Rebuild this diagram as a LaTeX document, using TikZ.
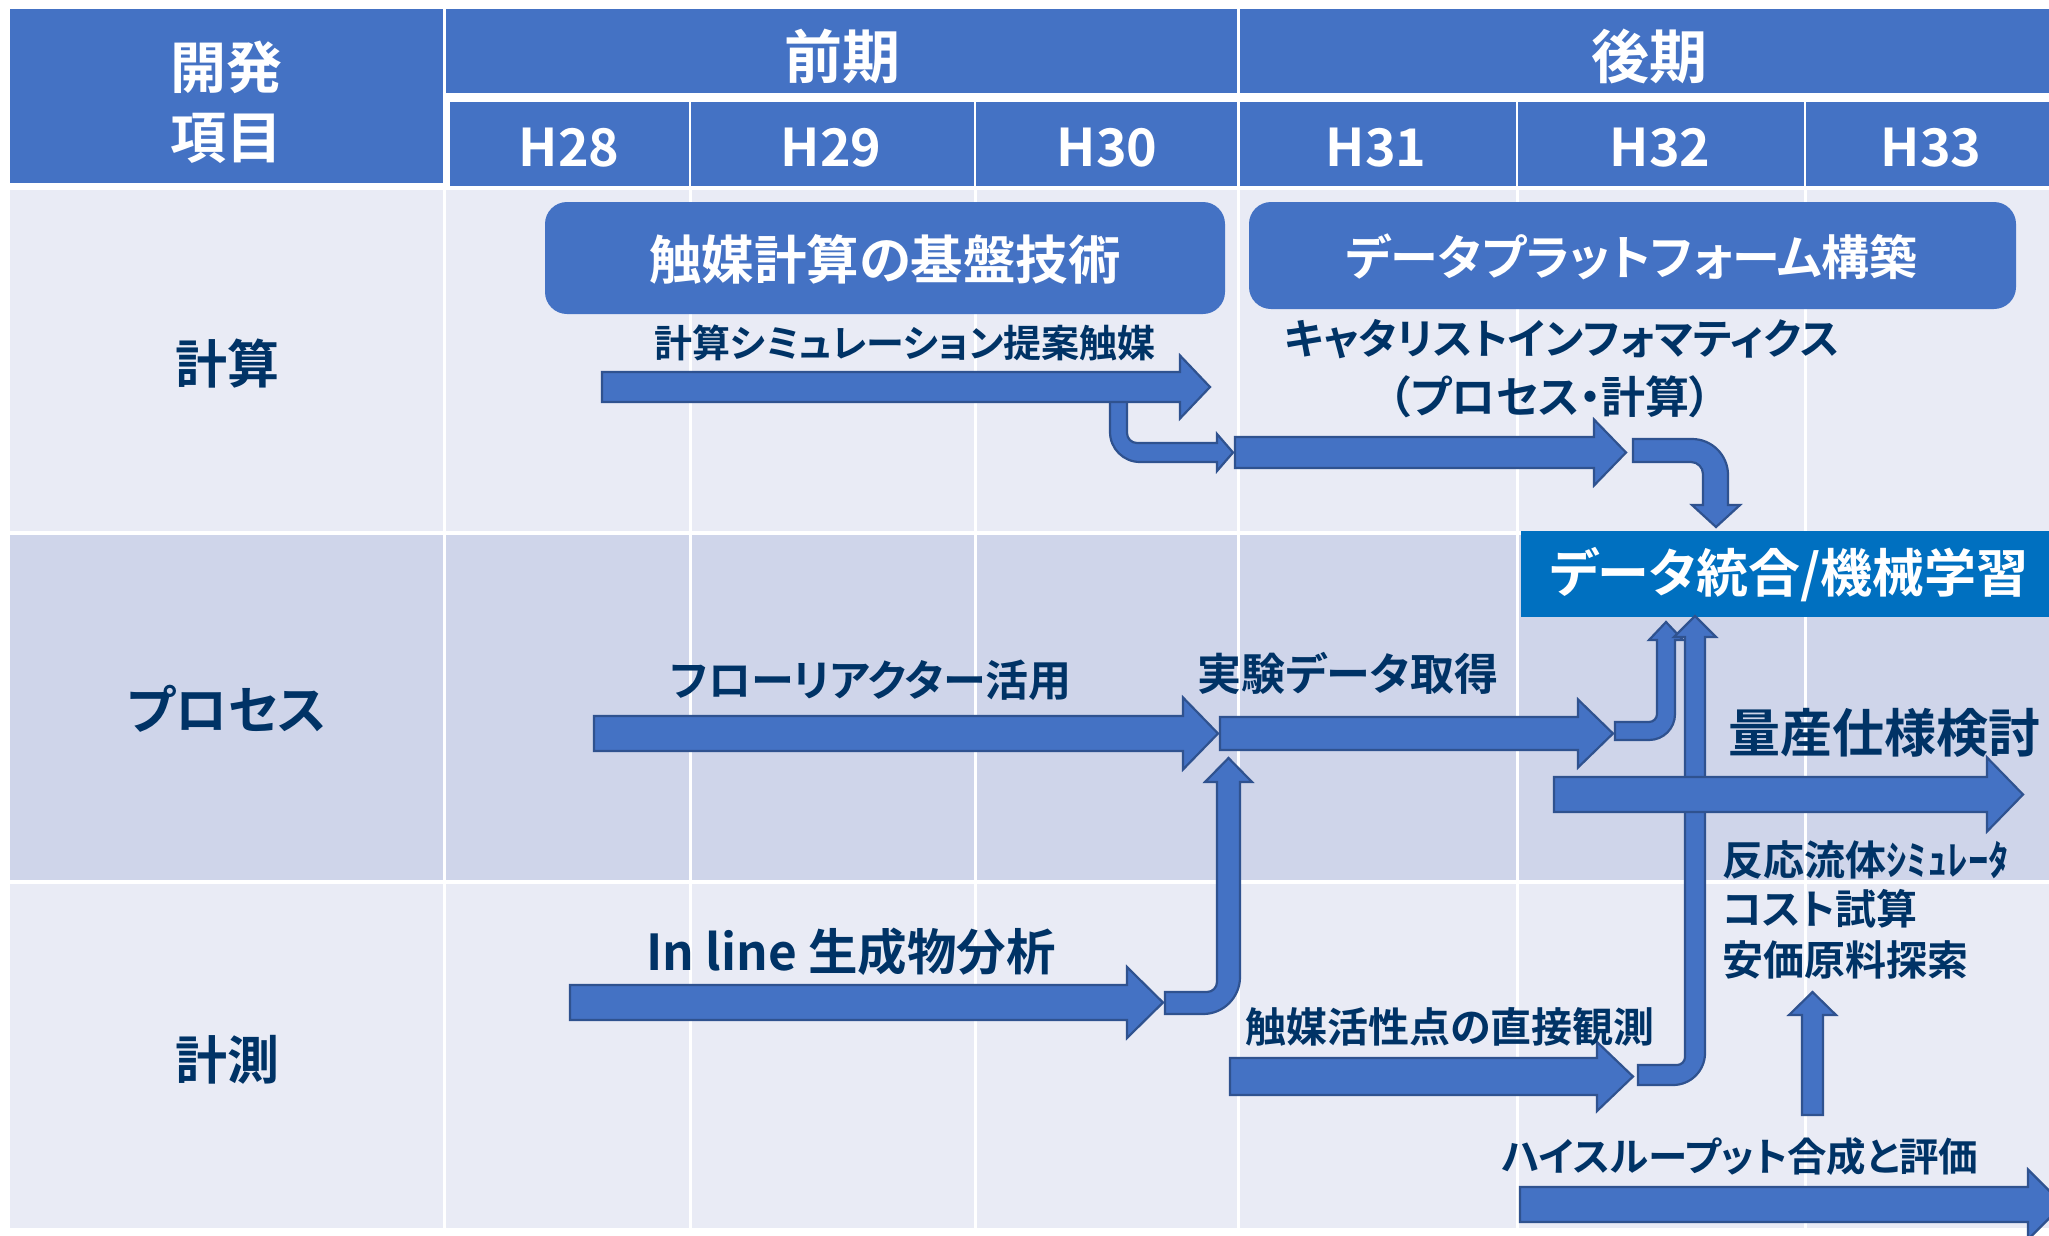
\documentclass[tikz,border=0pt]{standalone}
\usepackage{fontspec}
\newfontfamily\jp{Noto Sans CJK JP Bold}[RawFeature=+palt]
\definecolor{hdr}{HTML}{4472C4}
\definecolor{rowa}{HTML}{E9EBF5}
\definecolor{rowb}{HTML}{CFD5EA}
\definecolor{navy}{HTML}{003366}
\definecolor{aedge}{HTML}{2F528F}
\definecolor{dbox}{HTML}{0070C0}
\tikzset{
  blk/.style={fill=hdr, draw=aedge, line width=2.2pt, line join=miter},
  lbl/.style={text=navy, font=\jp\fontsize{#1}{#1}\selectfont, inner sep=0pt},
  hd/.style={text=white, font=\jp\fontsize{#1}{#1}\selectfont, inner sep=0pt},
  gridline/.style={white, line width=3pt},
  rbox/.style={fill=hdr, rounded corners=22pt, inner sep=0pt},
}
\newcommand\harr[6]{%
  \path[blk] ({#1},{#4-#5}) -- ({#2},{#4-#5}) -- ({#2},{#4-#6}) -- ({#3},{#4})
    -- ({#2},{#4+#6}) -- ({#2},{#4+#5}) -- ({#1},{#4+#5}) -- cycle;}
\begin{document}
\begin{tikzpicture}[x=1pt,y=-1pt]
\useasboundingbox (0,0) rectangle (2049,1235);
\clip (0,0) rectangle (2049,1235);
\fill[white] (0,0) rectangle (2049,1235);
% header
\fill[hdr] (10,9) rectangle (443,183);
\fill[hdr] (446,9) rectangle (1237,93);
\fill[hdr] (1240,9) rectangle (2049,93);
\fill[hdr] (450,102) rectangle (689,186);
\fill[hdr] (691,102) rectangle (974,186);
\fill[hdr] (976,102) rectangle (1237,186);
\fill[hdr] (1240,102) rectangle (1516,186);
\fill[hdr] (1518,102) rectangle (1804,186);
\fill[hdr] (1806,102) rectangle (2049,186);
% body rows
\fill[rowa] (10,190) rectangle (2049,531);
\fill[rowb] (10,535) rectangle (2049,880);
\fill[rowa] (10,884) rectangle (2049,1228);
\foreach \gx in {444.5,690,975,1238.5,1517,1805}
  \draw[gridline] (\gx,190) -- (\gx,1228);
% header texts
\node[hd=56] (kaihatsu) at (226,67) {開発};
\node[hd=56] (koumoku) at (226,138) {項目};
\node[hd=58] (zenki) at (842,56) {前期};
\node[hd=58] (kouki) at (1649,56) {後期};
\node[hd=52] (h28) at (569,148) {H28};
\node[hd=52] (h29) at (831,148) {H29};
\node[hd=52] (h30) at (1107,148) {H30};
\node[hd=52] (h31) at (1376,148) {H31};
\node[hd=52] (h32) at (1660,148) {H32};
\node[hd=52] (h33) at (1931,148) {H33};
% row labels
\node[lbl=52] (keisan) at (227,364) {計算};
\node[lbl=52] (process) at (227,709) {プロセス};
\node[lbl=52] (keisoku) at (227,1060) {計測};
% rounded boxes
\node[rbox, minimum width=680pt, minimum height=112pt] (kibanbox) at (885,258) {};
\node[hd=52.5] (kiban) at (885,259) {触媒計算の基盤技術};
\node[rbox, minimum width=767pt, minimum height=107pt] (platbox) at (1632.5,255.5) {};
\node[hd=48] (plat) at (1632,257) {データプラットフォーム構築};
% data integration box
\node[fill=dbox, minimum width=528pt, minimum height=86pt, inner sep=0pt] (databox) at (1785,574) {};
\node[hd=52] (data) at (1789,575) {データ統合/機械学習};
% bent arrows
\path[blk] (1110,401) -- (1110,432) .. controls (1110,448.6) and (1123.4,462) .. (1140,462)
  -- (1217,462) -- (1217,471) -- (1233,452.5) -- (1217,434) -- (1217,443) -- (1137,443)
  .. controls (1131.5,443) and (1127,438.5) .. (1127,433) -- (1127,401) -- cycle;
\path[blk] (1633,439) -- (1692,439) .. controls (1711.9,439) and (1728,455.1) .. (1728,475)
  -- (1728,505) -- (1740,505) -- (1716,527) -- (1692,505) -- (1703,505) -- (1703,474)
  .. controls (1703,467.4) and (1697.6,462) .. (1691,462) -- (1633,462) -- cycle;
\path[blk] (1615,722) -- (1649,722) .. controls (1653.4,722) and (1657,718.4) .. (1657,714)
  -- (1657,640) -- (1649,640) -- (1666,622) -- (1683,640) -- (1675,640) -- (1675,714)
  .. controls (1675,728.4) and (1663.4,740) .. (1649,740) -- (1615,740) -- cycle;
\path[blk] (1165,992) -- (1207,992) .. controls (1212.5,992) and (1217,987.5) .. (1217,982)
  -- (1217,782) -- (1205,782) -- (1228.5,758) -- (1252,782) -- (1240,782) -- (1240,977)
  .. controls (1240,997.4) and (1223.4,1014) .. (1203,1014) -- (1165,1014) -- cycle;
\path[blk] (1638,1065) -- (1677,1065) .. controls (1681.4,1065) and (1685,1061.4) .. (1685,1057)
  -- (1685,637) -- (1674,637) -- (1695,616) -- (1716,637) -- (1705,637) -- (1705,1053)
  .. controls (1705,1070.7) and (1690.7,1085) .. (1673,1085) -- (1638,1085) -- cycle;
% straight arrows
\harr{602}{1180}{1210}{387}{15}{31.5}
\harr{1235}{1594}{1626}{452.5}{15.5}{33}
\harr{594}{1183}{1218}{733.5}{17.5}{36}
\harr{1220}{1578}{1613}{733.5}{16.5}{34}
\harr{570}{1127}{1163}{1002.5}{17.5}{35.5}
\harr{1230}{1597}{1633}{1076.5}{18.5}{34.5}
\harr{1554}{1987}{2023}{794.5}{17.5}{37}
\harr{1520}{2028}{2063}{1204.5}{17.5}{35}
\path[blk] (1802,1115) -- (1802,1015) -- (1789,1015) -- (1812.5,992) -- (1836,1015)
  -- (1823,1015) -- (1823,1115) -- cycle;
% labels
\node[lbl=38] (sim) at (905,343) {計算シミュレーション提案触媒};
\node[lbl=42] (cat) at (1562,339) {キャタリストインフォマティクス};
\node[lbl=44] (catsub) at (1550,397) {（プロセス・計算）};
\node[lbl=43] (flow) at (871,680) {フローリアクター活用};
\node[lbl=44] (exp) at (1348,673) {実験データ取得};
\node[lbl=52] (mass) at (1884,733) {量産仕様検討};
\node[lbl=49.5] (inline) at (851,952) {In line 生成物分析};
\node[lbl=41] (active) at (1450,1027) {触媒活性点の直接観測};
\node[lbl=41, anchor=west] (fluid) at (1722,860) {反応流体ｼﾐｭﾚｰﾀ};
\node[lbl=41, anchor=west] (cost) at (1722,909) {コスト試算};
\node[lbl=41, anchor=west] (cheap) at (1722,960) {安価原料探索};
\node[lbl=39.5] (hts) at (1740,1157) {ハイスループット合成と評価};
\end{tikzpicture}
\end{document}
